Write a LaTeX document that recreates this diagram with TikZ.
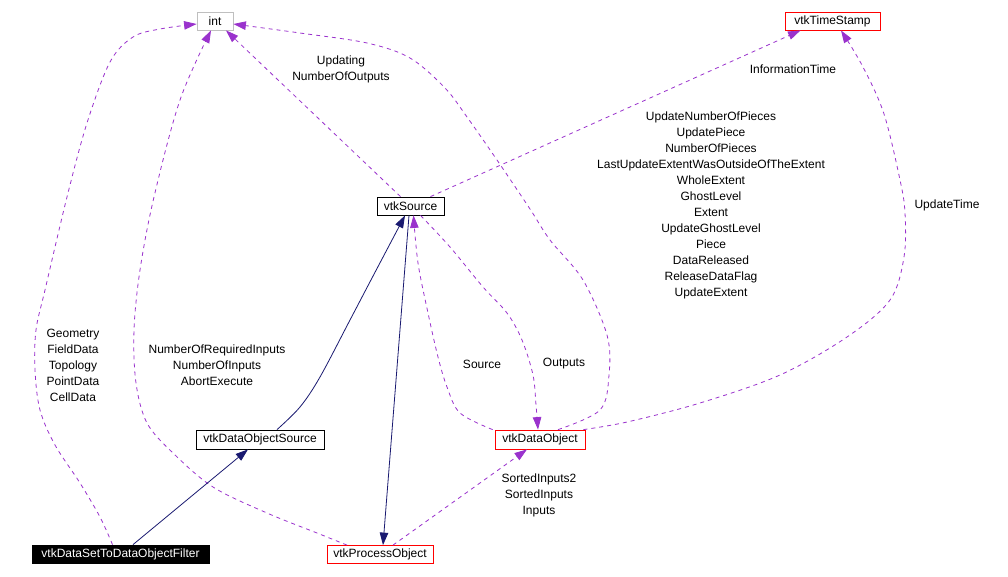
\documentclass[tikz,border=0pt]{standalone}
\usepackage{fontspec}
\setmainfont{Liberation Sans}
\usetikzlibrary{arrows.meta}
\definecolor{edgepurple}{RGB}{154,50,205}
\definecolor{edgenavy}{RGB}{25,25,112}
\definecolor{boxgray}{RGB}{191,191,191}
\begin{document}
\begin{tikzpicture}[x=1pt,y=-1pt,
  cls/.style={draw, line width=0.8pt, inner sep=0pt, minimum height=18pt,
    font=\fontsize{12}{14}\selectfont},
  redcls/.style={cls, draw=red},
  graycls/.style={cls, draw=boxgray},
  blackcls/.style={cls, draw=black},
  focuscls/.style={cls, draw=black, fill=black, text=white},
  usage/.style={draw=edgepurple, dash pattern=on 4pt off 4pt, line width=0.8pt,
    -{Triangle[length=12.5pt,width=8.5pt]}},
  inherit/.style={draw=edgenavy, line width=0.8pt,
    -{Triangle[length=12.5pt,width=8.5pt]}},
  lbl/.style={font=\fontsize{12}{16}\selectfont, align=center, inner sep=0pt}
]
\fill[white] (0,0) rectangle (1008,576);
\useasboundingbox (0,0) rectangle (1008,576);

% classes
\node[graycls, minimum width=36pt] (int) at (215,21) {int};
\node[redcls, minimum width=95pt] (ts) at (832.5,21) {vtkTimeStamp};
\node[blackcls, minimum width=67pt] (src) at (410.5,206) {vtkSource};
\node[blackcls, minimum width=128pt, minimum height=19pt] (dos) at (260,439.5) {vtkDataObjectSource};
\node[redcls, minimum width=90pt, minimum height=19pt] (do) at (540,439.5) {vtkDataObject};
\node[focuscls, minimum width=177pt] (flt) at (120.5,554) {vtkDataSetToDataObjectFilter};
\node[redcls, minimum width=106pt] (po) at (380,554.5) {vtkProcessObject};

% end points
\coordinate (e1s) at ([xshift=-8pt]flt.north);
\coordinate (e1t) at ([yshift=-3pt]int.west);
\coordinate (e2s) at ([xshift=-33pt]po.north);
\coordinate (e2t) at ([xshift=-4pt]int.south);
\coordinate (e3s) at ([xshift=-10pt]src.north);
\coordinate (e3t) at ([xshift=11pt]int.south);
\coordinate (e4s) at ([xshift=18pt]do.north);
\coordinate (e4t) at ([yshift=-3pt]int.east);
\coordinate (e5s) at ([xshift=20pt]src.north);
\coordinate (e5t) at ([xshift=-32pt]ts.south);
\coordinate (e6s) at ([xshift=-2pt]do.north east);
\coordinate (e6t) at ([xshift=8.5pt]ts.south);
\coordinate (e7s) at ([xshift=10pt]src.south);
\coordinate (e7t) at ([xshift=-2pt]do.north);
\coordinate (e8s) at ([xshift=-2pt]do.north west);
\coordinate (e8t) at ([xshift=3pt]src.south);
\coordinate (e9s) at ([xshift=13pt]po.north);
\coordinate (e9t) at ([xshift=-13pt]do.south);
\coordinate (e10s) at ([xshift=17pt]dos.north);
\coordinate (e10t) at ([xshift=-5.5pt]src.south);
\coordinate (e11s) at ([xshift=12.5pt]flt.north);
\coordinate (e11t) at ([xshift=-12pt]dos.south);
\coordinate (e12s) at ([xshift=-1.5pt]src.south);
\coordinate (e12t) at ([xshift=3pt]po.north);

% usage (dashed) edges
\draw[usage] plot[smooth, tension=0.55] coordinates {(e1s) (100,517) (80,483) (55,445) (40,410) (35,370) (36,330) (45,290) (67,197) (87,123) (110,62) (133,37) (160,29) (e1t)};
\draw[usage] plot[smooth, tension=0.55] coordinates {(e2s) (317,533) (267,513) (213,487) (173,453) (147,423) (136,383) (134,330) (140,270) (154,197) (180,100) (e2t)};
\draw[usage] (e3s) -- (e3t);
\draw[usage] plot[smooth, tension=0.55] coordinates {(e4s) (600,410) (609,375) (607,335) (583,280) (550,240) (530,209) (497,160) (467,117) (445,88) (410,58) (367,43) (300,33) (e4t)};
\draw[usage] (e5s) -- (e5t);
\draw[usage] plot[smooth, tension=0.55] coordinates {(e6s) (627,422) (700,403) (780,375) (847,337) (890,300) (904,257) (905,213) (900,180) (884,114) (863,67) (e6t)};
\draw[usage] plot[smooth, tension=0.55] coordinates {(e7s) (450,247) (483,287) (507,313) (522,340) (533,375) (536,405) (e7t)};
\draw[usage] plot[smooth, tension=0.55] coordinates {(e8s) (460,413) (447,387) (438,357) (428,313) (418,263) (e8t)};
\draw[usage] (e9s) -- (e9t);

% inheritance (solid) edges
\draw[inherit] plot[smooth, tension=0.55] coordinates {(e10s) (300,407) (320,377) (350,320) (372,278) (e10t)};
\draw[inherit] (e11s) -- (e11t);
\draw[inherit] (e12s) -- (e12t);

% labels
\node[lbl] (l1) at (73,365) {Geometry\\FieldData\\Topology\\PointData\\CellData};
\node[lbl] (l2) at (217,365) {NumberOfRequiredInputs\\NumberOfInputs\\AbortExecute};
\node[lbl] (l3) at (341,69) {Updating\\NumberOfOutputs};
\node[lbl] (l4) at (793,69) {InformationTime};
\node[lbl] (l5) at (711,205) {UpdateNumberOfPieces\\UpdatePiece\\NumberOfPieces\\LastUpdateExtentWasOutsideOfTheExtent\\WholeExtent\\GhostLevel\\Extent\\UpdateGhostLevel\\Piece\\DataReleased\\ReleaseDataFlag\\UpdateExtent};
\node[lbl] (l6) at (947,205) {UpdateTime};
\node[lbl] (l7) at (564,364) {Outputs};
\node[lbl] (l8) at (482,364) {Source};
\node[lbl] (l9) at (539,495) {SortedInputs2\\SortedInputs\\Inputs};
\end{tikzpicture}
\end{document}
